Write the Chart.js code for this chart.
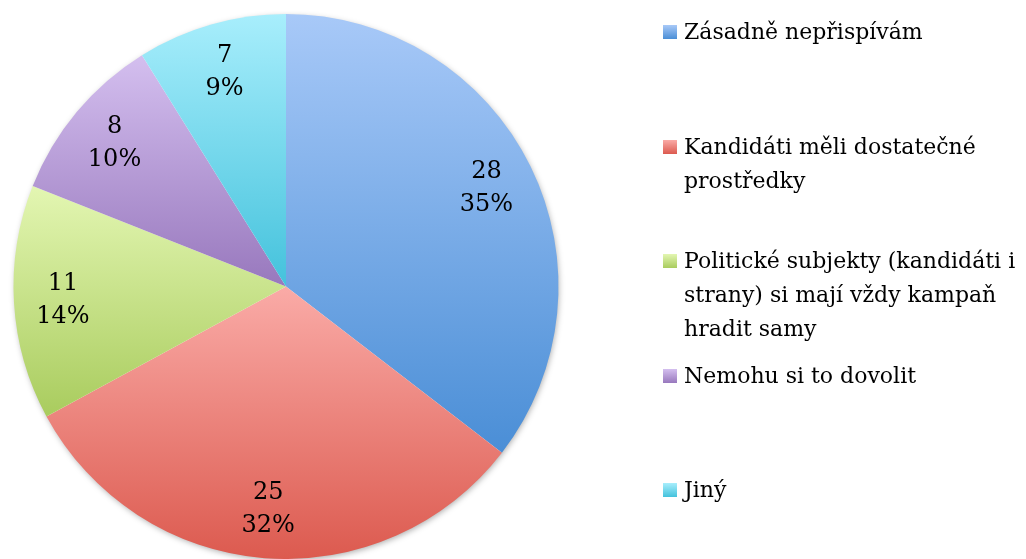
<!DOCTYPE html>
<html>
<head>
<meta charset="utf-8">
<script src="https://cdn.jsdelivr.net/npm/chart.js@4.4.1/dist/chart.umd.min.js"></script>
<style>
  html, body { margin: 0; padding: 0; background: #fff; }
  #wrap { position: relative; width: 1026px; height: 559px; overflow: hidden; }
  #legend { position: absolute; left: 0; top: 0; }
  .item { position: absolute; left: 663px; font-family: 'DejaVu Serif', serif; font-size: 22px; line-height: 34px; color: #000; }
  .item .box { position: absolute; left: 0; top: 10px; width: 14px; height: 14px; }
  .item .txt { position: absolute; left: 21px; top: 0; white-space: nowrap; }
</style>
</head>
<body>
<div id="wrap">
  <canvas id="pie" width="1026" height="559"></canvas>
  <div id="legend"></div>
</div>
<script>
document.addEventListener('DOMContentLoaded', () => {
    const labels = [
        ['Zásadně nepřispívám'],
        ['Kandidáti měli dostatečné', 'prostředky'],
        ['Politické subjekty (kandidáti i', 'strany) si mají vždy kampaň', 'hradit samy'],
        ['Nemohu si to dovolit'],
        ['Jiný']
    ];
    const values = [28, 25, 11, 8, 7];
    // light (top) and dark (bottom) of each slice gradient
    const topColors = ['#a8c9f8', '#faaba7', '#e3f6b2', '#d4bfef', '#a8eefc'];
    const bottomColors = ['#4a8ed6', '#dc5a4f', '#a9cc5e', '#9878bd', '#44c2dc'];

    const total = values.reduce((a, b) => a + b, 0);

    // vertical extent of one slice, so each slice gets its own gradient
    function sliceYRange(i, cy, r) {
        let start = -Math.PI / 2;
        for (let k = 0; k < i; k++) start += 2 * Math.PI * values[k] / total;
        const end = start + 2 * Math.PI * values[i] / total;
        const ys = [cy, cy + r * Math.sin(start), cy + r * Math.sin(end)];
        [-Math.PI / 2, Math.PI / 2, 3 * Math.PI / 2].forEach(a => {
            if (a > start && a < end) ys.push(cy + r * Math.sin(a));
        });
        return [Math.min(...ys), Math.max(...ys)];
    }

    const sliceLabels = {
        id: 'sliceLabels',
        afterDatasetsDraw(chart) {
            const ctx = chart.ctx;
            const meta = chart.getDatasetMeta(0);
            ctx.save();
            ctx.font = '24px "DejaVu Serif", serif';
            ctx.fillStyle = '#000';
            ctx.textAlign = 'center';
            ctx.textBaseline = 'middle';
            meta.data.forEach((arc, i) => {
                const p = arc.getProps(['x', 'y', 'startAngle', 'endAngle', 'outerRadius']);
                const mid = (p.startAngle + p.endAngle) / 2;
                const d = p.outerRadius * 0.82;
                const x = p.x + Math.cos(mid) * d;
                const y = p.y + Math.sin(mid) * d;
                const pct = Math.round(values[i] / total * 100) + '%';
                ctx.fillText(String(values[i]), x, y - 16);
                ctx.fillText(pct, x, y + 17);
            });
            ctx.restore();
        }
    };

    const pieShadow = {
        id: 'pieShadow',
        beforeDatasetsDraw(chart) {
            const arc = chart.getDatasetMeta(0).data[0];
            if (!arc) return;
            const p = arc.getProps(['x', 'y', 'outerRadius']);
            const ctx = chart.ctx;
            ctx.save();
            ctx.shadowColor = 'rgba(0,0,0,0.35)';
            ctx.shadowBlur = 6;
            ctx.shadowOffsetX = 1;
            ctx.shadowOffsetY = 2;
            ctx.fillStyle = '#fff';
            ctx.beginPath();
            ctx.arc(p.x, p.y, p.outerRadius - 1, 0, Math.PI * 2);
            ctx.fill();
            ctx.restore();
        }
    };

    const ctx = document.getElementById('pie').getContext('2d');
    new Chart(ctx, {
        type: 'pie',
        data: {
            labels: labels,
            datasets: [{
                data: values,
                backgroundColor: (c) => {
                    const area = c.chart.chartArea;
                    if (!area) return topColors[c.dataIndex];
                    const cy = (area.top + area.bottom) / 2;
                    const r = Math.min(area.right - area.left, area.bottom - area.top) / 2;
                    const [y0, y1] = sliceYRange(c.dataIndex, cy, r);
                    const g = c.chart.ctx.createLinearGradient(0, y0, 0, y1);
                    g.addColorStop(0, topColors[c.dataIndex]);
                    g.addColorStop(1, bottomColors[c.dataIndex]);
                    return g;
                },
                borderWidth: 0,
                hoverOffset: 0
            }]
        },
        options: {
            responsive: false,
            animation: false,
            events: [],
            layout: { padding: { left: 13, right: 467, top: 14, bottom: 0 } },
            plugins: {
                legend: { display: false },
                tooltip: { enabled: false }
            }
        },
        plugins: [pieShadow, sliceLabels]
    });

    // legend on the right, one item per category
    const legend = document.getElementById('legend');
    labels.forEach((lines, i) => {
        const item = document.createElement('div');
        item.className = 'item';
        item.style.top = (15 + i * 114.5) + 'px';
        const box = document.createElement('div');
        box.className = 'box';
        box.style.background = `linear-gradient(${topColors[i]}, ${bottomColors[i]})`;
        const txt = document.createElement('div');
        txt.className = 'txt';
        txt.innerHTML = lines.join('<br>');
        item.appendChild(box);
        item.appendChild(txt);
        legend.appendChild(item);
    });
});
</script>
</body>
</html>
